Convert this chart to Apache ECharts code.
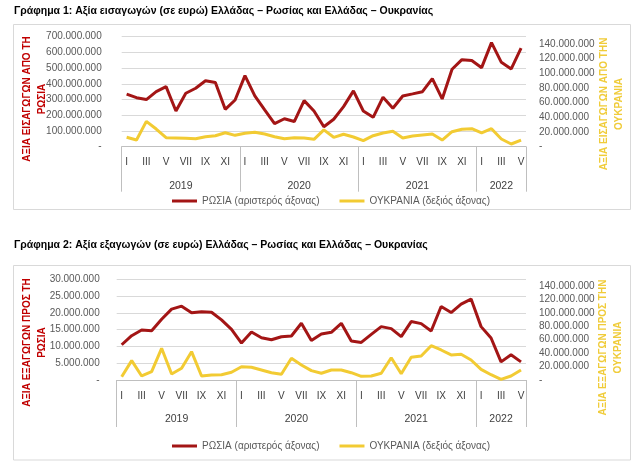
<!DOCTYPE html>
<html><head><meta charset="utf-8">
<script src="https://cdn.jsdelivr.net/npm/echarts@6/dist/echarts.min.js"></script>
<style>html,body{margin:0;padding:0;background:#fff}#c{width:638px;height:463px}</style>
</head><body><div id="c"></div>
<script>
// ---- categories ----
const years = ['2019', '2020', '2021', '2022'];
const monthsPerYear = [12, 12, 12, 5];
const romanMonths = ['I','II','III','IV','V','VI','VII','VIII','IX','X','XI','XII'];

// ---- Chart 1: imports (million EUR) ----
const importsRussia = [335,312,300,350,382,227,340,372,420,408,238,297,
  452,323,234,147,178,160,293,227,127,175,255,355,
  227,187,315,245,323,336,350,433,304,493,554,548,
  503,662,537,495,627];
const importsUkraine = [12.8,9.1,34.6,24.1,12.3,11.9,11.4,10.9,13.6,15,19.1,15.5,
  18.3,19.6,17.3,13.6,10.9,12.3,11.9,10.1,23,12.8,16.9,13.2,
  8.2,15,18.7,21,11.9,14.6,16,17.3,9.1,20.5,23.7,24.5,
  18.7,24.5,10.5,3.7,9.1];

// ---- Chart 2: exports (million EUR) ----
const exportsRussia = [10.5,13.2,14.9,14.7,18.1,21.1,22,20,20.3,20.2,17.9,15.1,
  11,14.3,12.6,12,12.9,13.1,16.9,11.8,13.7,14.2,16.9,11.6,
  11.2,13.6,15.9,15.3,12.9,17.4,16.8,14.6,21.9,20.1,22.6,24.1,
  15.9,12.5,5.4,7.5,5.4];
const exportsUkraine = [4.9,28.8,6,12.4,47.2,8.9,17.4,42.2,6,7.5,7.9,11.5,
  19.8,18.9,14.9,10.9,8.5,32.3,22.4,13.9,10,14.9,14.9,10.9,
  5.5,6,10,33.2,9.4,33.8,35.8,51.1,44.7,37.3,38.3,29.8,
  15.9,7.9,1,6,14.9];

// ---- axis ticks ----
const leftMax1 = 700e6, leftStep1 = 100e6;
const leftMax2 = 30e6, leftStep2 = 5e6;
const rightMax = 150e6, rightStep = 20e6, rightLastLabel = 140e6;

const nameRU = 'ΡΩΣΙΑ (αριστερός άξονας)';
const nameUA = 'ΟΥΚΡΑΝΙΑ (δεξιός άξονας)';
const titles = ['Γράφημα 1: Αξία εισαγωγών (σε ευρώ) Ελλάδας – Ρωσίας και Ελλάδας – Ουκρανίας',
                'Γράφημα 2: Αξία εξαγωγών (σε ευρώ) Ελλάδας – Ρωσίας και Ελλάδας – Ουκρανίας'];

const categories = [];
years.forEach((y, i) => { for (let m = 0; m < monthsPerYear[i]; m++) categories.push(romanMonths[m] + ' ' + y); });
const N = categories.length;
const bounds = [0]; let acc = 0; monthsPerYear.forEach(n => { acc += n; bounds.push(acc); });
const yearCenters = years.map((y, i) => (bounds[i] + bounds[i + 1]) / 2);
const M = a => a.map(v => v * 1e6);

const fmt = v => v === 0 ? '-' : String(Math.round(v)).replace(/\B(?=(\d{3})+(?!\d))/g, '.');
const RED = '#A31515', YEL = '#F2CB33', LBL = '#595959', GRID = '#d9d9d9', AX = '#bfbfbf';
const FONT = 'Liberation Sans';

function xAxes(gi, mMargin, yMargin, tickLen) {
  return [
    { type: 'category', gridIndex: gi, data: categories, position: 'bottom', boundaryGap: true,
      axisLine: { lineStyle: { color: AX, width: 1 } }, axisTick: { show: false },
      axisLabel: { interval: 1, formatter: v => v.split(' ')[0], color: '#404040', fontSize: 10, fontFamily: FONT, margin: mMargin },
      splitLine: { show: false } },
    { type: 'value', gridIndex: gi, min: 0, max: N, position: 'bottom',
      axisLine: { show: false }, splitLine: { show: false },
      axisTick: { show: true, customValues: bounds, length: tickLen, lineStyle: { color: AX } },
      axisLabel: { customValues: yearCenters, formatter: v => years[yearCenters.indexOf(v)] || '', margin: yMargin, fontSize: 10.5, color: '#404040', fontFamily: FONT } }
  ];
}
function yAxes(gi, lmax, lstep, lmargin) {
  return [
    { type: 'value', gridIndex: gi, position: 'left', min: 0, max: lmax, interval: lstep,
      axisLine: { show: false }, axisTick: { show: false },
      axisLabel: { formatter: fmt, color: LBL, fontSize: 10, fontFamily: FONT, margin: lmargin },
      splitLine: { lineStyle: { color: GRID, width: 1 } } },
    { type: 'value', gridIndex: gi, position: 'right', min: 0, max: rightMax, interval: rightStep,
      axisLine: { show: false }, axisTick: { show: false },
      axisLabel: { formatter: v => v > rightLastLabel ? '' : fmt(v), color: LBL, fontSize: 10, fontFamily: FONT, margin: 13 },
      splitLine: { show: false } }
  ];
}
function line(name, data, xi, yi, color) {
  return { name, type: 'line', data, xAxisIndex: xi, yAxisIndex: yi, symbol: 'none', smooth: false,
    lineStyle: { color, width: 3 }, itemStyle: { color }, z: 3 };
}
function vText(text, x, y, color) {
  return { type: 'text', x, y, rotation: Math.PI / 2,
    style: { text, fill: color, font: 'bold 10px "' + FONT + '"', align: 'center', verticalAlign: 'middle', lineHeight: 15 } };
}

const chart = echarts.init(document.getElementById('c'), null, { renderer: 'canvas' });
chart.setOption({
  animation: false,
  backgroundColor: '#fff',
  textStyle: { fontFamily: FONT },
  title: [
    { text: titles[0], left: 14, top: 6, padding: 0, textStyle: { fontSize: 10.5, fontWeight: 'bold', color: '#000', fontFamily: FONT } },
    { text: titles[1], left: 14, top: 240, padding: 0, textStyle: { fontSize: 10.5, fontWeight: 'bold', color: '#000', fontFamily: FONT } }
  ],
  legend: [
    { left: 172, top: 196, data: [nameRU, nameUA], icon: 'rect', itemWidth: 25, itemHeight: 3, itemGap: 20, padding: 0,
      textStyle: { color: LBL, fontSize: 10, fontFamily: FONT } },
    { left: 172, top: 441, data: [nameRU, nameUA], icon: 'rect', itemWidth: 25, itemHeight: 3, itemGap: 20, padding: 0,
      textStyle: { color: LBL, fontSize: 10, fontFamily: FONT } }
  ],
  grid: [
    { left: 121.7, right: 112, top: 36.7, height: 110 },
    { left: 116.7, right: 112, top: 279.3, height: 100.7 }
  ],
  xAxis: [...xAxes(0, 11, 34, 45), ...xAxes(1, 11, 34, 47)],
  yAxis: [...yAxes(0, leftMax1, leftStep1, 20), ...yAxes(1, leftMax2, leftStep2, 17)],
  series: [
    line(nameRU, M(importsRussia), 0, 0, RED),
    line(nameUA, M(importsUkraine), 0, 1, YEL),
    line(nameRU, M(exportsRussia), 2, 2, RED),
    line(nameUA, M(exportsUkraine), 2, 3, YEL)
  ],
  graphic: [
    { type: 'rect', shape: { x: 13.5, y: 24.5, width: 617, height: 185 }, style: { fill: 'none', stroke: GRID, lineWidth: 1 }, z: -1 },
    { type: 'rect', shape: { x: 13.5, y: 265.5, width: 617, height: 194.5 }, style: { fill: 'none', stroke: GRID, lineWidth: 1 }, z: -1 },
    vText('ΑΞΙΑ ΕΙΣΑΓΩΓΩΝ ΑΠΟ ΤΗ\nΡΩΣΙΑ', 34.5, 99, '#C00000'),
    vText('ΑΞΙΑ ΕΙΣΑΓΩΓΩΝ ΑΠΟ ΤΗΝ\nΟΥΚΡΑΝΙΑ', 612, 104, '#F0CC3A'),
    vText('ΑΞΙΑ ΕΞΑΓΩΓΩΝ ΠΡΟΣ ΤΗ\nΡΩΣΙΑ', 35, 342.5, '#C00000'),
    vText('ΑΞΙΑ ΕΞΑΓΩΓΩΝ ΠΡΟΣ ΤΗΝ\nΟΥΚΡΑΝΙΑ', 611, 347.5, '#F0CC3A')
  ]
});
</script>
</body></html>
